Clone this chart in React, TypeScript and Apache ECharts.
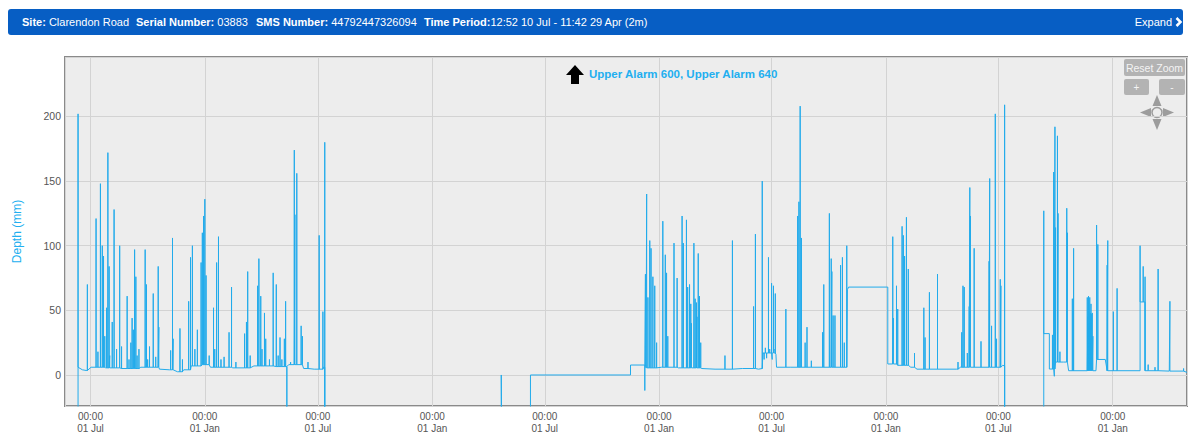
import React, { useEffect, useRef } from "react";
import * as echarts from "echarts";

type Pt = [string, number];

const FONT = '"Liberation Sans", Arial, Helvetica, sans-serif';
const LINE_BLUE = "#22abeb";
const TITLE_BLUE = "#22aff0";

// Depth logger readings: slowly varying baseline levels and storm spikes (mm)
const baseline2015: Pt[] = [
  ["2015-06-11", -60], ["2015-06-11", 6], ["2015-06-18", 4], ["2015-06-24", 3.5],
  ["2015-07-02", 6], ["2015-07-25", 5.5], ["2015-08-20", 5], ["2015-09-20", 6],
  ["2015-10-20", 4.5], ["2015-11-05", 4], ["2015-11-18", 2.5], ["2015-11-28", 4],
  ["2015-12-10", 7], ["2015-12-28", 8], ["2016-01-10", 6], ["2016-02-15", 5.5],
  ["2016-03-20", 7], ["2016-04-25", 6.5], ["2016-05-15", 8], ["2016-06-08", 5],
  ["2016-06-25", 4.5], ["2016-07-10", 6], ["2016-07-12", 6], ["2016-07-12", -60],
];

const spikes2015: Pt[] = [
  ["2015-06-11", 202], ["2015-06-26", 70], ["2015-07-10", 121], ["2015-07-13", 18],
  ["2015-07-17", 148], ["2015-07-20", 100], ["2015-07-22", 92], ["2015-07-24", 30],
  ["2015-07-27", 52], ["2015-07-29", 172], ["2015-07-31", 84], ["2015-08-01", 15],
  ["2015-08-05", 41], ["2015-08-08", 128], ["2015-08-12", 20], ["2015-08-17", 100],
  ["2015-08-20", 22], ["2015-08-29", 61], ["2015-09-01", 12], ["2015-09-04", 25],
  ["2015-09-06", 44], ["2015-09-08", 35], ["2015-09-10", 97], ["2015-09-12", 76],
  ["2015-09-14", 15], ["2015-09-17", 20], ["2015-09-27", 97], ["2015-09-29", 70],
  ["2015-10-01", 12], ["2015-10-04", 22], ["2015-10-10", 63], ["2015-10-14", 14],
  ["2015-10-18", 84], ["2015-10-19", 37], ["2015-11-07", 19], ["2015-11-10", 106],
  ["2015-11-11", 28], ["2015-11-22", 36], ["2015-11-26", 12], ["2015-12-06", 57],
  ["2015-12-09", 91], ["2015-12-12", 100], ["2015-12-16", 20], ["2015-12-20", 35],
  ["2015-12-26", 87], ["2015-12-28", 110], ["2015-12-30", 123], ["2016-01-01", 136],
  ["2016-01-03", 77], ["2016-01-08", 15], ["2016-01-15", 52], ["2016-01-17", 20],
  ["2016-01-20", 87], ["2016-01-23", 107], ["2016-01-27", 12], ["2016-02-01", 14],
  ["2016-02-09", 33], ["2016-02-13", 68], ["2016-02-20", 10], ["2016-03-05", 32],
  ["2016-03-08", 41], ["2016-03-10", 80], ["2016-03-14", 15], ["2016-03-26", 69],
  ["2016-03-28", 90], ["2016-03-31", 61], ["2016-04-02", 20], ["2016-04-06", 48],
  ["2016-04-08", 28], ["2016-04-14", 12], ["2016-04-20", 79], ["2016-04-25", 70],
  ["2016-04-28", 15], ["2016-05-01", 29], ["2016-05-04", 12], ["2016-05-08", 28],
  ["2016-05-10", 57], ["2016-05-12", -60], ["2016-05-18", 10], ["2016-05-24", 174],
  ["2016-05-25", 124], ["2016-05-28", 156], ["2016-06-04", 38], ["2016-06-06", 30],
  ["2016-06-15", 10], ["2016-07-03", 108], ["2016-07-09", 49], ["2016-07-12", 180],
];

const baseline2017: Pt[] = [
  ["2017-04-22", -60], ["2017-04-22", 0], ["2017-04-23", -60],
  ["2017-06-08", -60], ["2017-06-08", 0], ["2017-11-16", 0], ["2017-11-16", 7.7],
  ["2017-12-09", 7.7], ["2017-12-11", 5.5], ["2018-01-05", 6], ["2018-02-01", 5.5],
  ["2018-03-10", 5], ["2018-04-01", 4.5], ["2018-05-15", 5], ["2018-06-10", 4.5],
  ["2018-06-16", 5], ["2018-06-17", 17], ["2018-07-08", 16], ["2018-07-09", 6],
  ["2018-08-01", 6], ["2018-09-01", 6], ["2018-10-30", 6], ["2018-10-31", 66],
  ["2018-11-02", 68], ["2019-01-04", 68],
];

const spikes2017: Pt[] = [
  ["2017-12-09", -12], ["2017-12-10", 78], ["2017-12-12", 140], ["2017-12-14", 60],
  ["2017-12-17", 104], ["2017-12-19", 98], ["2017-12-22", 76], ["2017-12-25", 69],
  ["2017-12-28", 25], ["2018-01-07", 119], ["2018-01-11", 93], ["2018-01-13", 79],
  ["2018-01-15", 30], ["2018-01-25", 102], ["2018-01-30", 75], ["2018-02-07", 123],
  ["2018-02-09", 102], ["2018-02-14", 120], ["2018-02-16", 68], ["2018-02-19", 70],
  ["2018-02-21", 55], ["2018-02-22", 40], ["2018-02-26", 102], ["2018-02-28", 59],
  ["2018-03-02", 56], ["2018-03-03", 45], ["2018-03-05", 94], ["2018-03-07", 61],
  ["2018-03-09", 25], ["2018-04-17", 15], ["2018-04-29", 104], ["2018-06-02", 53],
  ["2018-06-05", 109], ["2018-06-16", 150], ["2018-06-19", 12], ["2018-06-21", 21],
  ["2018-06-23", 13], ["2018-06-26", 91], ["2018-06-28", 20], ["2018-07-01", 71],
  ["2018-07-02", 12], ["2018-07-04", 69], ["2018-07-05", 20], ["2018-07-07", 63],
  ["2018-07-24", 51], ["2018-08-12", 123], ["2018-08-14", 134], ["2018-08-16", 208],
  ["2018-08-18", 106], ["2018-08-24", 25], ["2018-08-27", 37], ["2018-09-03", 11],
  ["2018-09-21", 33], ["2018-09-23", 70], ["2018-10-02", 125], ["2018-10-05", 90],
  ["2018-10-06", 80], ["2018-10-08", 46], ["2018-10-11", 46], ["2018-10-20", 85],
  ["2018-10-23", 91], ["2018-10-26", 25], ["2018-10-30", 100],
];

const baseline2019: Pt[] = [
  ["2019-01-04", 8.5], ["2019-01-20", 7.5], ["2019-02-10", 6], ["2019-02-20", 4.5],
  ["2019-04-25", 4.5], ["2019-05-01", 6], ["2019-06-20", 6], ["2019-07-08", 7.5],
  ["2019-07-11", 7], ["2019-07-11", -60],
];

const spikes2019: Pt[] = [
  ["2019-01-12", 107], ["2019-01-13", 44], ["2019-01-18", 69], ["2019-01-20", 51],
  ["2019-01-27", 115], ["2019-01-29", 108], ["2019-01-31", 92], ["2019-02-03", 122],
  ["2019-02-06", 82], ["2019-02-16", 17], ["2019-03-03", 52], ["2019-03-05", 29],
  ["2019-03-12", 64], ["2019-03-25", 78], ["2019-04-27", 10], ["2019-05-03", 33],
  ["2019-05-05", 69], ["2019-05-07", 68], ["2019-05-12", 17], ["2019-05-15", 53],
  ["2019-05-16", 145], ["2019-05-17", 123], ["2019-05-23", 98], ["2019-06-03", 26],
  ["2019-06-16", 88], ["2019-06-17", 152], ["2019-06-20", 38], ["2019-06-26", 202],
  ["2019-06-28", 28], ["2019-07-04", 74], ["2019-07-05", 69], ["2019-07-11", 209],
];

const baselineLate: Pt[] = [
  ["2019-09-12", -60], ["2019-09-12", 127], ["2019-09-12", 32], ["2019-09-21", 32],
  ["2019-09-21", 4.6], ["2019-09-28", 4.6], ["2019-10-01", 10], ["2019-10-14", 10],
  ["2019-10-22", 3.3], ["2019-12-05", 3.3], ["2019-12-06", 12], ["2019-12-20", 12],
  ["2019-12-23", 3.3], ["2020-02-14", 3.3], ["2020-02-14", 56.5], ["2020-02-22", 56.5],
  ["2020-02-22", 3.3], ["2020-04-01", 3], ["2020-04-29 11:42", 2],
];

const spikesLate: Pt[] = [
  ["2019-09-26", 31], ["2019-09-28", 157], ["2019-09-29", -1], ["2019-09-30", 192],
  ["2019-10-01", 114], ["2019-10-04", 185], ["2019-10-05", 125], ["2019-10-08", 18],
  ["2019-10-19", 129], ["2019-10-20", 110], ["2019-10-28", 59], ["2019-10-30", 98],
  ["2019-11-21", 60], ["2019-11-22", 45], ["2019-11-23", 61], ["2019-11-24", 40],
  ["2019-11-25", 60], ["2019-11-26", 48], ["2019-11-27", 55], ["2019-11-28", 47],
  ["2019-11-29", 48], ["2019-11-30", 30], ["2019-12-06", 116], ["2019-12-08", 101],
  ["2019-12-23", 85], ["2019-12-24", 104], ["2020-01-02", 49], ["2020-01-08", 67],
  ["2020-02-14", 100], ["2020-02-19", 84], ["2020-02-22", 76], ["2020-02-27", 8],
  ["2020-03-09", 6], ["2020-03-14", 82], ["2020-04-02", 57], ["2020-04-24", 5],
];

const X_MIN = "2015-05-21";
const X_MAX = "2020-04-29 11:42";
const Y_MIN = -24;
const Y_MAX = 246;

// Merge baseline levels and spikes into one ordered trace; each spike is a
// vertical excursion from the baseline level in force at that date.
function trace(base: Pt[], spikes: Pt[]): Pt[] {
  const events = [
    ...base.map((p) => ({ d: p[0], v: p[1], spike: false })),
    ...spikes.map((p) => ({ d: p[0], v: p[1], spike: true })),
  ];
  events.sort((a, b) => (a.d < b.d ? -1 : a.d > b.d ? 1 : 0));
  let level = base[0][1];
  const out: Pt[] = [];
  for (const e of events) {
    if (e.spike) {
      out.push([e.d, level], [e.d, e.v], [e.d, level]);
    } else {
      out.push([e.d, e.v]);
      level = e.v;
    }
  }
  return out;
}

const depthTrace = trace(
  [...baseline2015, ...baseline2017, ...baseline2019, ...baselineLate],
  [...spikes2015, ...spikes2017, ...spikes2019, ...spikesLate]
);

function headerText(x: number, label: string, value: string) {
  return {
    type: "text",
    x,
    y: 22,
    style: {
      text: `{b|${label}}${value}`,
      fill: "#ffffff",
      fontSize: 11,
      fontFamily: FONT,
      verticalAlign: "middle",
      rich: {
        b: { fontWeight: "bold", fill: "#ffffff", fontSize: 11, fontFamily: FONT },
      },
    },
  };
}

function buildOption(): any {
  const navGrey = "#9c9c9c";
  const btnGrey = "#b3b3b3";
  return {
    animation: false,
    backgroundColor: "#ffffff",
    textStyle: { fontFamily: FONT },
    grid: {
      left: 65,
      top: 57,
      width: 1122,
      height: 349,
      outerBoundsMode: "none",
      containLabel: false,
      show: true,
      backgroundColor: "#ededed",
      borderColor: "#8a8a8a",
      borderWidth: 2,
    },
    xAxis: {
      type: "time",
      min: X_MIN,
      max: X_MAX,
      splitNumber: 10,
      axisLine: { show: false },
      axisTick: { show: false },
      splitLine: { show: true, lineStyle: { color: "#d3d3d3", width: 1 } },
      axisLabel: {
        color: "#555555",
        fontSize: 10,
        lineHeight: 12,
        margin: 4,
        hideOverlap: false,
        formatter: (v: number) => echarts.time.format(v, "{HH}:{mm}\n{dd} {MMM}", false),
      },
    },
    yAxis: {
      type: "value",
      min: Y_MIN,
      max: Y_MAX,
      splitNumber: 5,
      name: "Depth (mm)",
      nameLocation: "middle",
      nameGap: 42,
      nameTextStyle: { color: TITLE_BLUE, fontSize: 12 },
      axisLine: { show: false },
      axisTick: { show: false },
      splitLine: { show: true, lineStyle: { color: "#d3d3d3", width: 1 } },
      axisLabel: { color: "#555555", fontSize: 10.5, margin: 4, showMinLabel: false, showMaxLabel: false },
    },
    series: [
      {
        type: "line",
        data: depthTrace,
        showSymbol: false,
        symbol: "none",
        clip: true,
        lineStyle: { color: LINE_BLUE, width: 1 },
        itemStyle: { color: LINE_BLUE },
      },
    ],
    graphic: [
      // site header bar
      { type: "rect", shape: { x: 8, y: 9, width: 1175, height: 26, r: 3 }, style: { fill: "#075ec4" } },
      headerText(22, "Site:", " Clarendon Road"),
      headerText(136, "Serial Number:", " 03883"),
      headerText(256, "SMS Number:", " 44792447326094"),
      headerText(424, "Time Period:", "12:52 10 Jul - 11:42 29 Apr (2m)"),
      { type: "text", x: 1172, y: 22, style: { text: "Expand", fill: "#ffffff", fontSize: 11, fontFamily: FONT, align: "right", verticalAlign: "middle" } },
      { type: "polyline", shape: { points: [[1176.5, 18], [1180.5, 22], [1176.5, 26]] }, style: { stroke: "#ffffff", lineWidth: 2.5, fill: null } },
      // alarm notice above the visible range
      { type: "polygon", shape: { points: [[575, 65], [566, 75], [571, 75], [571, 84], [579, 84], [579, 75], [584, 75]] }, style: { fill: "#000000" } },
      { type: "text", x: 589, y: 74, style: { text: "Upper Alarm 600, Upper Alarm 640", fill: TITLE_BLUE, fontSize: 11.5, fontWeight: "bold", fontFamily: FONT, verticalAlign: "middle" } },
      // zoom controls
      { type: "rect", shape: { x: 1124, y: 59, width: 61, height: 17, r: 2 }, style: { fill: btnGrey } },
      { type: "text", x: 1154.5, y: 67.5, style: { text: "Reset Zoom", fill: "#f4f4f4", fontSize: 10.5, fontFamily: FONT, align: "center", verticalAlign: "middle" } },
      { type: "rect", shape: { x: 1124, y: 79, width: 25, height: 16, r: 2 }, style: { fill: btnGrey } },
      { type: "text", x: 1136.5, y: 87, style: { text: "+", fill: "#f4f4f4", fontSize: 10, fontFamily: FONT, align: "center", verticalAlign: "middle" } },
      { type: "rect", shape: { x: 1159, y: 79, width: 26, height: 16, r: 2 }, style: { fill: btnGrey } },
      { type: "text", x: 1172, y: 87, style: { text: "-", fill: "#f4f4f4", fontSize: 10, fontFamily: FONT, align: "center", verticalAlign: "middle" } },
      { type: "polygon", shape: { points: [[1157, 95], [1152.5, 106], [1161.5, 106]] }, style: { fill: navGrey } },
      { type: "polygon", shape: { points: [[1157, 130], [1152.5, 119], [1161.5, 119]] }, style: { fill: navGrey } },
      { type: "polygon", shape: { points: [[1140, 112.5], [1151, 108], [1151, 117]] }, style: { fill: navGrey } },
      { type: "polygon", shape: { points: [[1174, 112.5], [1163, 108], [1163, 117]] }, style: { fill: navGrey } },
      { type: "circle", shape: { cx: 1157, cy: 112.5, r: 5 }, style: { fill: "#ededed", stroke: navGrey, lineWidth: 1.5 } },
    ],
  };
}

export default function App() {
  const ref = useRef<HTMLDivElement>(null);
  useEffect(() => {
    document.body.style.margin = "0";
    const chart = echarts.init(ref.current as HTMLDivElement, null, { renderer: "svg" });
    chart.setOption(buildOption());
    return () => chart.dispose();
  }, []);
  return <div ref={ref} style={{ width: 1190, height: 432 }} />;
}
